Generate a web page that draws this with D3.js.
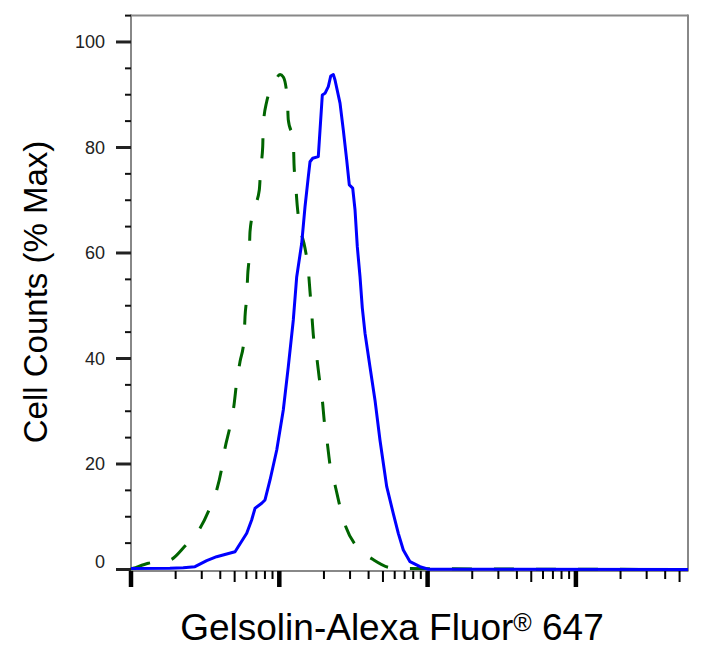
<!DOCTYPE html>
<html>
<head>
<meta charset="utf-8">
<script src="https://cdn.jsdelivr.net/npm/d3@7/dist/d3.min.js"></script>
<style>
  html, body { margin: 0; padding: 0; background: #fff; }
  svg { display: block; }
</style>
</head>
<body>
<svg id="chart" width="720" height="652"></svg>
<script>
// ---- data ----
const yTickLabels = [0, 20, 40, 60, 80, 100];
const xTitle = "Gelsolin-Alexa Fluor";
const yTitle = "Cell Counts (% Max)";

// Stained sample (blue, solid)
const blueX = [10, 18.3, 22.5, 27.0, 32.4, 37.8, 44.2, 50.3, 60.3, 65.1, 68.6, 76.1, 80.1, 86.6, 96.1,
  106.4, 115.0, 124.3, 131.0, 141.6, 149.1, 156.9, 161.1, 168.0, 183.2, 195.0, 203.3, 214.0, 222.2,
  231.3, 237.5, 256.7, 270.2, 284.8, 296.5, 312.6, 324.0, 335.7, 350.1, 362.8, 378.4, 408.9, 441.8,
  477.5, 530.1, 587.1, 634.6, 685.8, 761, 889, 1011, 57000];
const blueY = [0.19, 0.23, 0.34, 0.53, 1.67, 2.43, 2.94, 3.37, 6.86, 9.38, 11.6, 12.55, 13.18, 16.97,
  22.65, 30.24, 38.45, 47.3, 55.45, 61.84, 68.78, 74.46, 77.3, 77.95, 78.26, 89.95, 90.27, 91.53,
  93.55, 93.84, 92.8, 88.4, 83.3, 77.6, 72.9, 72.3, 68.2, 61.2, 55.5, 49.6, 44.8, 38.4, 32.1, 24.5,
  15.7, 10.6, 6.86, 3.7, 1.48, 0.53, 0.04, 0];

// Control (green, dashed)
const greenX = [10, 10.36, 13.08, 18.33, 23.13, 29.2, 33.73, 37.84, 40.89, 43.04, 46.51, 49.5, 51.62,
  54.33, 57.81, 58.72, 60.29, 61.23, 62.77, 63.46, 66.8, 73.3, 74.9, 77.3, 78.0, 82.2, 92.1, 101.1,
  106.4, 113.2, 115.0, 124.3, 125.6, 129.0, 132.3, 137.9, 149.1, 156.9, 161.1, 165.4, 169.6, 178.7,
  186.1, 195.0, 201.2, 210.8, 219.8, 237.5, 256.7, 281.7, 332.6, 426.5, 564, 741, 57000];
const greenY = [0.09, 0.23, 1.18, 1.80, 4.45, 7.81, 11.41, 15.07, 19.18, 22.98, 27.07, 31.18, 35.60,
  39.39, 43.51, 47.92, 51.72, 55.83, 59.94, 64.04, 67.83, 71.94, 76.06, 80.15, 84.27, 88.68, 92.04,
  93.84, 93.36, 89.33, 85.21, 81.42, 77.0, 72.89, 68.78, 64.99, 60.89, 56.78, 52.66, 48.57, 44.45,
  40.34, 36.25, 32.13, 28.02, 23.92, 19.81, 16.02, 11.9, 8.0, 4.32, 1.93, 0.34, 0.19, 0];

// ---- layout ----
const L = 131, R = 688, T = 15.6, B = 569.5;
const svg = d3.select("#chart");

const x = d3.scaleLog().domain([10, 57000]).range([L, R]);
const y = d3.scaleLinear().domain([0, 105]).range([B, T]);

// frame
const frameColor = "#888";
svg.append("line").attr("x1", L).attr("x2", R).attr("y1", T).attr("y2", T)
  .attr("stroke", frameColor).attr("stroke-width", 2);
svg.append("line").attr("x1", R).attr("x2", R).attr("y1", T - 1).attr("y2", 571.5)
  .attr("stroke", frameColor).attr("stroke-width", 2);
svg.append("line").attr("x1", L).attr("x2", L).attr("y1", T - 1).attr("y2", 571.5)
  .attr("stroke", frameColor).attr("stroke-width", 2);
svg.append("line").attr("x1", L).attr("x2", R).attr("y1", 571).attr("y2", 571)
  .attr("stroke", frameColor).attr("stroke-width", 2);

// y ticks
const yMinor = d3.range(0, 106, 5);
const gy = svg.append("g");
yMinor.forEach(v => {
  const major = v % 20 === 0;
  gy.append("line")
    .attr("x1", major ? L - 15 : L - 6).attr("x2", L)
    .attr("y1", y(v)).attr("y2", y(v))
    .attr("stroke", major ? "#222" : "#111")
    .attr("stroke-width", major ? 3 : 2);
});
yTickLabels.forEach(v => {
  gy.append("text")
    .attr("x", 105)
    .attr("y", y(v) + (v === 0 ? -8 : 0))
    .attr("dy", "0.36em")
    .attr("text-anchor", "end")
    .attr("font-family", "Liberation Sans, Arial, sans-serif")
    .attr("font-size", 18)
    .attr("fill", "#222")
    .text(v);
});

// x ticks (log)
const gx = svg.append("g");
x.ticks().forEach(v => {
  const lg = Math.log10(v);
  const major = Math.abs(lg - Math.round(lg)) < 1e-9;
  const first = Math.round(v / Math.pow(10, Math.floor(lg + 1e-9)));
  const len = major ? 16 : (first === 5 ? 11 : 8);
  gx.append("line")
    .attr("x1", x(v)).attr("x2", x(v))
    .attr("y1", 571).attr("y2", 571 + len)
    .attr("stroke", "#000")
    .attr("stroke-width", major ? 4.5 : 2);
});

// curves
const line = d3.line().x(d => x(d[0])).y(d => y(d[1]));
const greenData = greenX.map((v, i) => [v, greenY[i]]);
const blueData = blueX.map((v, i) => [v, blueY[i]]);

svg.append("path").datum(greenData)
  .attr("d", line.curve(d3.curveMonotoneX))
  .attr("fill", "none")
  .attr("stroke", "#006400")
  .attr("stroke-width", 3)
  .attr("stroke-dasharray", "20,22");

svg.append("path").datum(blueData)
  .attr("d", line.curve(d3.curveLinear))
  .attr("fill", "none")
  .attr("stroke", "#0000ff")
  .attr("stroke-width", 3)
  .attr("stroke-linejoin", "round");

// axis titles
const xt = svg.append("text")
  .attr("x", 392).attr("y", 640)
  .attr("text-anchor", "middle")
  .attr("font-family", "Liberation Sans, Arial, sans-serif")
  .attr("font-size", 37)
  .attr("fill", "#000");
xt.append("tspan").text(xTitle);
xt.append("tspan").attr("font-size", 25).attr("dy", -9).text("®");
xt.append("tspan").attr("dy", 9).text(" 647");

svg.append("text")
  .attr("transform", "translate(47,292) rotate(-90)")
  .attr("text-anchor", "middle")
  .attr("font-family", "Liberation Sans, Arial, sans-serif")
  .attr("font-size", 33)
  .attr("fill", "#000")
  .text(yTitle);
</script>
</body>
</html>
